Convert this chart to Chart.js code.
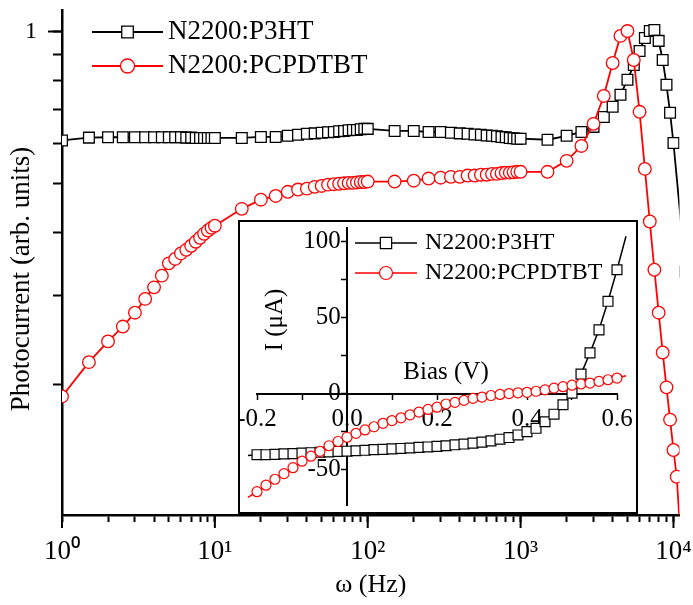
<!DOCTYPE html>
<html>
<head>
<meta charset="utf-8">
<script src="https://cdn.jsdelivr.net/npm/chart.js@4.4.0/dist/chart.umd.min.js"></script>
<style>
  html, body { margin: 0; padding: 0; background: #fff; }
  #wrap { position: relative; width: 693px; height: 605px; }
  #main { position: absolute; left: 0; top: 0; }
  #inset { position: absolute; left: 238px; top: 220px; }
</style>
</head>
<body>
<div id="wrap">
  <canvas id="main" width="693" height="605"></canvas>
  <canvas id="inset" width="400" height="294"></canvas>
</div>
<script>
// ---- main plot: photocurrent vs modulation frequency ----
var freq = [1, 1.5, 2, 2.5, 3, 3.5, 4, 4.5, 5, 5.5, 6, 6.5, 7, 7.5, 8, 8.5, 9, 9.5, 10,
    15, 20, 25, 30, 35, 40, 45, 50, 55, 60, 65, 70, 75, 80, 85, 90, 95, 100,
    150, 200, 250, 300, 350, 400, 450, 500, 550, 600, 650, 700, 750, 800, 850, 900, 950, 1000,
    1500, 2000, 2500, 3000, 3500, 4000, 4500, 5000, 5500, 6000, 6500, 7000, 7500, 8000, 8500, 9000, 9500, 10000,
    10500, 11000, 12000];

var p3htPC = [0.608, 0.616, 0.617, 0.617, 0.617, 0.617, 0.617, 0.617, 0.617, 0.617, 0.617, 0.616, 0.616, 0.615, 0.615, 0.615, 0.615, 0.615, 0.615,
    0.615, 0.618, 0.618, 0.621, 0.624, 0.627, 0.628, 0.630, 0.631, 0.632, 0.634, 0.635, 0.637, 0.638, 0.638, 0.640, 0.641, 0.641,
    0.635, 0.635, 0.632, 0.632, 0.630, 0.628, 0.627, 0.625, 0.624, 0.622, 0.621, 0.620, 0.618, 0.617, 0.615, 0.614, 0.613, 0.613,
    0.610, 0.621, 0.632, 0.647, 0.677, 0.709, 0.749, 0.802, 0.858, 0.915, 0.971, 1.002, 1.007, 0.958, 0.878, 0.784, 0.690, 0.601,
    null, null, 0.334];

var pcpdtbtPC = [0.189, 0.221, 0.243, 0.260, 0.277, 0.295, 0.311, 0.328, 0.347, 0.354, 0.363, 0.369, 0.376, 0.383, 0.390, 0.397, 0.403, 0.408, 0.412,
    0.445, 0.464, 0.472, 0.481, 0.486, 0.488, 0.492, 0.494, 0.497, 0.498, 0.499, 0.500, 0.501, 0.501, 0.502, 0.503, 0.503, 0.504,
    0.504, 0.506, 0.511, 0.513, 0.515, 0.515, 0.518, 0.518, 0.520, 0.520, 0.522, 0.522, 0.524, 0.525, 0.525, 0.526, 0.527, 0.527,
    0.527, 0.554, 0.593, 0.656, 0.745, 0.866, 0.980, 1.002, 0.878, 0.693, 0.534, 0.420, 0.337, 0.277, 0.231, 0.197, 0.170, 0.148,
    0.131, 0.105, null];

var freqTicks = [1, 2, 3, 4, 5, 6, 7, 8, 9, 10, 20, 30, 40, 50, 60, 70, 80, 90,
    100, 200, 300, 400, 500, 600, 700, 800, 900, 1000, 2000, 3000, 4000, 5000, 6000, 7000, 8000, 9000, 10000];
var pcTicks = [0.2, 0.3, 0.4, 0.5, 0.6, 0.7, 0.8, 0.9, 1];

// ---- inset: I-V curves ----
var bias = [-0.22, -0.20, -0.18, -0.16, -0.14, -0.12, -0.10, -0.08, -0.06, -0.04, -0.02,
    0.00, 0.02, 0.04, 0.06, 0.08, 0.10, 0.12, 0.14, 0.16, 0.18, 0.20, 0.22, 0.24, 0.26, 0.28, 0.30,
    0.32, 0.34, 0.36, 0.38, 0.40, 0.42, 0.44, 0.46, 0.48, 0.50, 0.52, 0.54, 0.56, 0.58, 0.60, 0.62];

var p3htIV = [-40.9, -40.3, -40.3, -40.1, -39.8, -39.6, -39.2, -39.0, -38.7, -38.5, -38.1,
    -38.0, -37.7, -37.4, -37.0, -36.8, -36.5, -36.2, -35.9, -35.5, -35.2, -34.8, -34.4, -33.8, -33.3, -32.7, -32.0,
    -31.2, -30.1, -29.0, -27.3, -25.1, -22.9, -18.6, -13.6, -7.4, 0.2, 12.8, 26.8, 42.0, 60.8, 81.6, 103.7];

var pcpdtbtIV = [-68.4, -64.7, -60.4, -56.5, -52.8, -48.9, -44.6, -41.3, -38.1, -34.4, -31.6,
    -28.8, -26.2, -24.0, -21.9, -19.6, -17.8, -16.0, -14.0, -12.2, -10.5, -9.0, -6.9, -5.8, -4.5, -3.2, -2.3,
    -1.3, -0.6, 0.0, 0.5, 0.8, 1.5, 2.4, 3.6, 4.5, 5.5, 6.3, 6.9, 8.0, 9.1, 10.2, 11.7];

var biasTicks = [-0.2, -0.1, 0, 0.1, 0.2, 0.3, 0.4, 0.5, 0.6];
var ivTicks = [-50, -25, 0, 25, 50, 75, 100];

var SERIF = '"Liberation Serif", "Times New Roman", serif';
var sup = ['\u2070', '\u00b9', '\u00b2', '\u00b3', '\u2074'];

function isDecade(v) {
    var e = Math.log10(v);
    return Math.abs(e - Math.round(e)) < 1e-9;
}

// axis range set after the data limits, so points past the ends are still drawn
function fixRange(lo, hi) {
    return function(s) { s.min = lo; s.max = hi; };
}

// legend line + marker + label
function drawKey(ctx, ds, x1, x2, y, r, textX, fontSize) {
    ctx.save();
    ctx.strokeStyle = ds.borderColor;
    ctx.lineWidth = ds.borderWidth;
    ctx.beginPath();
    ctx.moveTo(x1, y);
    ctx.lineTo(x2, y);
    ctx.stroke();
    ctx.fillStyle = '#fff';
    ctx.strokeStyle = ds.pointBorderColor;
    ctx.lineWidth = ds.pointBorderWidth;
    Chart.helpers.drawPoint(ctx, {pointStyle: ds.pointStyle, radius: r, borderWidth: ds.pointBorderWidth}, (x1 + x2) / 2, y);
    ctx.fillStyle = '#000';
    ctx.font = fontSize + 'px ' + SERIF;
    ctx.textAlign = 'left';
    ctx.textBaseline = 'middle';
    ctx.fillText(ds.label, textX, y);
    ctx.restore();
}

function rotatedText(ctx, text, x, y, fontSize) {
    ctx.save();
    ctx.translate(x, y);
    ctx.rotate(-Math.PI / 2);
    ctx.fillStyle = '#000';
    ctx.font = fontSize + 'px ' + SERIF;
    ctx.textAlign = 'center';
    ctx.textBaseline = 'middle';
    ctx.fillText(text, 0, 0);
    ctx.restore();
}

var mainExtras = {
    id: 'mainExtras',
    afterDraw: function(chart) {
        var ctx = chart.ctx, xs = chart.scales.x, ys = chart.scales.y;
        // longer ticks at the decades and at 1
        ctx.save();
        ctx.strokeStyle = '#000';
        ctx.lineWidth = 2;
        ctx.beginPath();
        freqTicks.filter(isDecade).forEach(function(v) {
            var px = xs.getPixelForValue(v);
            ctx.moveTo(px, xs.top);
            ctx.lineTo(px, xs.top + 13);
        });
        var py = ys.getPixelForValue(1);
        ctx.moveTo(ys.right, py);
        ctx.lineTo(ys.right - 14, py);
        ctx.stroke();
        ctx.restore();

        rotatedText(ctx, 'Photocurrent (arb. units)', 22, 279, 27);

        var d = chart.data.datasets;
        drawKey(ctx, d[0], 92, 163, 32, 8.2, 168, 27);
        drawKey(ctx, d[1], 92, 163, 66, 7, 168, 27);
    }
};

var mainChart = new Chart(document.getElementById('main'), {
    type: 'line',
    data: {
        labels: freq,
        datasets: [{
            label: 'N2200:P3HT',
            data: p3htPC,
            borderColor: '#000',
            borderWidth: 1.8,
            pointStyle: 'rect',
            pointRadius: 7.6,
            pointBorderColor: '#000',
            pointBorderWidth: 1.3,
            pointBackgroundColor: '#fff',
            spanGaps: true,
            clip: 0,
            order: 2
        }, {
            label: 'N2200:PCPDTBT',
            data: pcpdtbtPC,
            borderColor: '#ff0000',
            borderWidth: 1.8,
            pointStyle: 'circle',
            pointRadius: 6.3,
            pointBorderColor: '#ff0000',
            pointBorderWidth: 1.3,
            pointBackgroundColor: '#fff',
            clip: 0,
            order: 1
        }]
    },
    options: {
        responsive: false,
        animation: false,
        events: [],
        layout: {padding: {left: 0, right: 13.5, top: 10, bottom: 0}},
        plugins: {legend: {display: false}, tooltip: {enabled: false}},
        scales: {
            x: {
                type: 'logarithmic',
                bounds: 'data',
                border: {color: '#000', width: 2.5},
                grid: {drawOnChartArea: false, tickLength: 7, tickWidth: 2, tickColor: '#000'},
                ticks: {
                    color: '#000',
                    font: {family: SERIF, size: 27},
                    padding: 14,
                    maxRotation: 0,
                    autoSkip: false,
                    callback: function(v) {
                        return isDecade(v) ? '10' + sup[Math.round(Math.log10(v))] : '';
                    }
                },
                title: {display: true, text: '\u03c9 (Hz)', color: '#000', font: {family: SERIF, size: 26}, padding: {top: 0, bottom: 4}},
                afterDataLimits: fixRange(1, 10950),
                afterBuildTicks: function(s) { s.ticks = freqTicks.map(function(v) { return {value: v}; }); },
                afterFit: function(s) { s.height = 90; s.paddingLeft = 0; s.paddingRight = 0; }
            },
            y: {
                type: 'logarithmic',
                min: 0.11,
                max: 1.103,
                border: {color: '#000', width: 2.5},
                grid: {drawOnChartArea: false, tickLength: 9, tickWidth: 2, tickColor: '#000'},
                ticks: {
                    color: '#000',
                    font: {family: SERIF, size: 24},
                    padding: 16,
                    autoSkip: false,
                    callback: function(v) { return Math.abs(v - 1) < 1e-9 ? '1' : ''; }
                },
                afterBuildTicks: function(s) { s.ticks = pcTicks.map(function(v) { return {value: v}; }); },
                afterFit: function(s) { s.width = 62; s.paddingTop = 0; s.paddingBottom = 0; }
            }
        }
    },
    plugins: [mainExtras]
});

var insetExtras = {
    id: 'insetExtras',
    beforeDraw: function(chart) {
        var ctx = chart.ctx;
        ctx.save();
        ctx.fillStyle = '#fff';
        ctx.fillRect(0, 0, chart.width, chart.height);
        ctx.strokeStyle = '#000';
        ctx.lineWidth = 2;
        ctx.strokeRect(1, 1, chart.width - 2, chart.height - 2);
        ctx.restore();
    },
    afterDraw: function(chart) {
        var ctx = chart.ctx;
        ctx.save();
        ctx.fillStyle = '#000';
        ctx.font = '25px ' + SERIF;
        ctx.textAlign = 'center';
        ctx.textBaseline = 'middle';
        ctx.fillText('Bias (V)', 208, 152);
        ctx.restore();
        rotatedText(ctx, 'I (\u03bcA)', 37, 100, 25);

        var d = chart.data.datasets;
        drawKey(ctx, d[0], 117, 179, 23, 8, 187, 24);
        drawKey(ctx, d[1], 117, 179, 53, 6.5, 187, 24);
    }
};

var insetChart = new Chart(document.getElementById('inset'), {
    type: 'line',
    data: {
        labels: bias,
        datasets: [{
            label: 'N2200:P3HT',
            data: p3htIV,
            borderColor: '#000',
            borderWidth: 1.5,
            pointStyle: 'rect',
            pointRadius: 7,
            pointBorderColor: '#000',
            pointBorderWidth: 1.2,
            pointBackgroundColor: '#fff',
            clip: false,
            order: 2
        }, {
            label: 'N2200:PCPDTBT',
            data: pcpdtbtIV,
            borderColor: '#ff0000',
            borderWidth: 1.5,
            pointStyle: 'circle',
            pointRadius: 5,
            pointBorderColor: '#ff0000',
            pointBorderWidth: 1.2,
            pointBackgroundColor: '#fff',
            clip: false,
            order: 1
        }]
    },
    options: {
        responsive: false,
        animation: false,
        events: [],
        layout: {padding: {left: 19, right: 21, top: 5, bottom: 7}},
        plugins: {legend: {display: false}, tooltip: {enabled: false}},
        scales: {
            x: {
                type: 'linear',
                bounds: 'data',
                position: {y: 0},
                border: {color: '#000', width: 2},
                grid: {drawOnChartArea: false, tickLength: 5, tickWidth: 1.5, tickColor: '#000'},
                ticks: {
                    color: '#000',
                    font: {family: SERIF, size: 25},
                    padding: 6,
                    maxRotation: 0,
                    autoSkip: false,
                    callback: function(v) {
                        var k = Math.round(v * 10);
                        return k % 2 === 0 ? v.toFixed(1) : '';
                    }
                },
                afterDataLimits: fixRange(-0.2, 0.6),
                afterBuildTicks: function(s) { s.ticks = biasTicks.map(function(v) { return {value: v}; }); },
                afterFit: function(s) { s.paddingLeft = 0; s.paddingRight = 0; s.paddingTop = 0; s.paddingBottom = 0; }
            },
            y: {
                type: 'linear',
                min: -74,
                max: 109,
                position: {x: 0},
                border: {color: '#000', width: 2},
                grid: {drawOnChartArea: false, tickLength: 5, tickWidth: 1.5, tickColor: '#000'},
                ticks: {
                    color: '#000',
                    font: {family: SERIF, size: 25},
                    padding: 4,
                    autoSkip: false,
                    callback: function(v) { return v % 50 === 0 ? v + ' ' : ''; }
                },
                afterBuildTicks: function(s) { s.ticks = ivTicks.map(function(v) { return {value: v}; }); },
                afterFit: function(s) { s.paddingLeft = 0; s.paddingRight = 0; s.paddingTop = 0; s.paddingBottom = 0; }
            }
        }
    },
    plugins: [insetExtras]
});
</script>
</body>
</html>
